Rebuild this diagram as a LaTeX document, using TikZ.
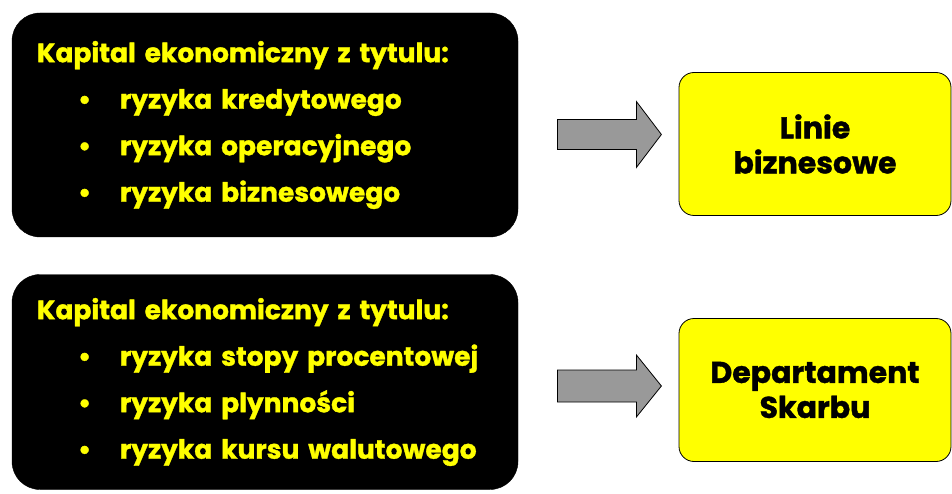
\documentclass[tikz,border=0pt]{standalone}
\usepackage{fontspec}
\setmainfont{Poppins}[BoldFeatures={FakeBold=1.2}]
\usetikzlibrary{calc}
\definecolor{zolty}{HTML}{FFFF00}
\definecolor{szary}{HTML}{999999}
\tikzset{
  kapbox/.style={fill=black, draw=black, rounded corners=28pt, minimum width=506pt,
    inner xsep=25pt, text width=456pt, align=left, text=zolty,
    font=\fontsize{26.5}{46.5}\selectfont\bfseries},
  celbox/.style={fill=zolty, draw=black, thick, rounded corners=15pt, minimum width=272pt,
    minimum height=143pt, align=center, font=\fontsize{30}{35}\selectfont\bfseries},
  strzalka/.style={fill=szary, draw=black, thick},
}
\newcommand{\punkt}[1]{\makebox[83pt][l]{\hspace*{41pt}\textbullet}#1}
\begin{document}
\begin{tikzpicture}[x=1pt,y=-1pt]
\useasboundingbox (0,0) rectangle (952,494);

% Kapital - gorny blok
\node[kapbox, minimum height=224pt] (kap1) at (265,125)
  {Kapital ekonomiczny z tytulu:\\
   \punkt{ryzyka kredytowego}\\
   \punkt{ryzyka operacyjnego}\\
   \punkt{ryzyka biznesowego}};

% Kapital - dolny blok
\node[kapbox, minimum height=215pt] (kap2) at (265,382)
  {Kapital ekonomiczny z tytulu:\\
   \punkt{ryzyka stopy procentowej}\\
   \punkt{ryzyka plynności}\\
   \punkt{ryzyka kursu walutowego}};

% Cele
\node[celbox] (linie) at (815,144) {Linie\\biznesowe};
\node[celbox] (skarb) at (815,390) {Departament\\Skarbu};

% Strzalki
\coordinate (a1) at ($(kap1.east)!0.5!(linie.west)$);
\coordinate (a2) at ($(kap2.east)!0.5!(skarb.west)$);
\draw[strzalka] (a1) ++(-41,-15) -- ++(79,0) -- ++(0,-18) -- ++(25,33)
  -- ++(-25,33) -- ++(0,-18) -- ++(-79,0) -- cycle;
\draw[strzalka] (a2) ++(-41,-16) -- ++(79,0) -- ++(0,-15) -- ++(25,31)
  -- ++(-25,31) -- ++(0,-15) -- ++(-79,0) -- cycle;

\end{tikzpicture}
\end{document}
